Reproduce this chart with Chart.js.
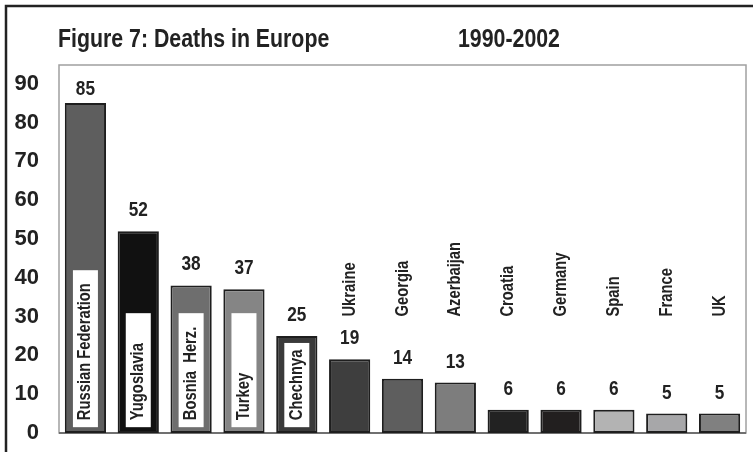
<!DOCTYPE html>
<html>
<head>
<meta charset="utf-8">
<script src="https://cdn.jsdelivr.net/npm/chart.js@4/dist/chart.umd.min.js"></script>
<style>
  html, body { margin: 0; padding: 0; background: #fff; }
  #wrap { width: 753px; height: 452px; }
</style>
</head>
<body>
<div id="wrap"><canvas id="c" width="753" height="452"></canvas></div>
<script>
// ---- data ----
const categories = ['Russian Federation', 'Yugoslavia', 'Bosnia  Herz.', 'Turkey', 'Chechnya',
  'Ukraine', 'Georgia', 'Azerbaijan', 'Croatia', 'Germany', 'Spain', 'France', 'UK'];
const deaths = [85, 52, 38, 37, 25, 19, 14, 13, 6, 6, 6, 5, 5];
const barColors = ['#5e5e5e', '#111111', '#6e6e6e', '#858585', '#3a3a3a',
  '#3e3e3e', '#5e5e5e', '#7d7d7d', '#222222', '#221f1f', '#b3b3b3', '#a7a7a9', '#808080'];
const yTickValues = [0, 10, 20, 30, 40, 50, 60, 70, 80, 90];
const titleText = 'Figure 7: Deaths in Europe';
const periodText = '1990-2002';

const FONT = "'Liberation Sans', Arial, sans-serif";
const NARROW = 0.82; // horizontal squeeze to imitate a narrow bold face
const INK = '#222222';

function narrowText(ctx, text, x, y, align, rotate) {
  ctx.save();
  ctx.translate(x, y);
  if (rotate) ctx.rotate(-Math.PI / 2);
  ctx.scale(NARROW, 1);
  ctx.textAlign = align;
  ctx.fillText(text, 0, 0);
  ctx.restore();
}

const deco = {
  id: 'deco',
  beforeDraw(chart) {
    const ctx = chart.ctx;
    ctx.save();
    ctx.fillStyle = '#ffffff';
    ctx.fillRect(0, 0, chart.width, chart.height);
    ctx.restore();
  },
  beforeDatasetsDraw(chart) {
    const { ctx, chartArea: a } = chart;
    ctx.save();
    ctx.strokeStyle = '#a0a0a0';
    ctx.lineWidth = 1.5;
    ctx.strokeRect(a.left, a.top, a.right - a.left, a.bottom - a.top);
    ctx.strokeStyle = '#707070';
    ctx.lineWidth = 2;
    ctx.beginPath();
    ctx.moveTo(a.left, a.bottom);
    ctx.lineTo(a.right, a.bottom);
    ctx.stroke();
    ctx.restore();
  },
  afterDatasetsDraw(chart) {
    const { ctx, chartArea: a, scales: { y } } = chart;
    ctx.save();
    // outer frame (top and left)
    ctx.strokeStyle = INK;
    ctx.lineWidth = 2.5;
    ctx.beginPath();
    ctx.moveTo(6, chart.height);
    ctx.lineTo(6, 6);
    ctx.lineTo(chart.width, 6);
    ctx.stroke();

    // titles
    ctx.fillStyle = INK;
    ctx.font = 'bold 26px ' + FONT;
    ctx.textBaseline = 'alphabetic';
    narrowText(ctx, titleText, 58, 47, 'left', false);
    narrowText(ctx, periodText, 458, 47, 'left', false);

    const meta = chart.getDatasetMeta(0);
    const outsideStart = y.getPixelForValue(30);
    const boxBottom = y.getPixelForValue(1.5);
    const textStart = y.getPixelForValue(3.3);
    meta.data.forEach((bar, i) => {
      const cx = bar.x;
      const top = bar.y;
      // value label
      ctx.font = 'bold 21px ' + FONT;
      ctx.fillStyle = INK;
      const vb = Math.max(top - 15, a.top + 30);
      narrowText(ctx, String(deaths[i]), cx, vb, 'center', false);

      // category label (rotated)
      ctx.font = 'bold 18px ' + FONT;
      const tw = ctx.measureText(categories[i]).width * NARROW;
      const inside = deaths[i] >= 25;
      if (inside) {
        const boxH = Math.max(114, tw + 20);
        const boxTop = Math.max(boxBottom - boxH, top + 7);
        ctx.fillStyle = '#ffffff';
        ctx.fillRect(cx - 12.5, boxTop, 25, boxBottom - boxTop);
        ctx.fillStyle = INK;
        narrowText(ctx, categories[i], cx + 5, textStart, 'left', true);
      } else {
        ctx.fillStyle = INK;
        narrowText(ctx, categories[i], cx + 5, outsideStart, 'left', true);
      }
    });
    ctx.restore();
  }
};

new Chart(document.getElementById('c'), {
  type: 'bar',
  data: {
    labels: categories,
    datasets: [{
      data: deaths,
      backgroundColor: barColors,
      borderColor: '#1e1e1e',
      borderWidth: 2,
      borderSkipped: false,
      categoryPercentage: 1,
      barPercentage: 0.78
    }]
  },
  options: {
    responsive: false,
    animation: false,
    layout: { padding: { top: 65, right: 7, bottom: 19, left: 0 } },
    plugins: { legend: { display: false }, tooltip: { enabled: false }, title: { display: false } },
    scales: {
      x: { display: false },
      y: {
        min: 0,
        max: 94.8,
        grid: { display: false, drawTicks: false },
        border: { display: false },
        afterBuildTicks(axis) {
          axis.ticks = yTickValues.map(v => ({ value: v }));
        },
        afterFit(axis) {
          axis.width = 59;
          axis.paddingTop = 0;
          axis.paddingBottom = 0;
        },
        ticks: {
          padding: 20,
          color: INK,
          font: { family: FONT, size: 22, weight: 'bold' }
        }
      }
    }
  },
  plugins: [deco]
});
</script>
</body>
</html>
